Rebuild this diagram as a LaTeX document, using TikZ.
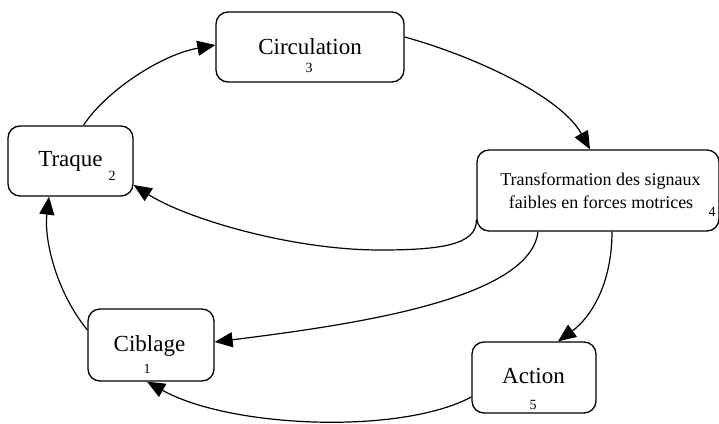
\documentclass[tikz,border=0pt]{standalone}
\usepackage{fontspec}
\setmainfont{Liberation Serif}
\usetikzlibrary{arrows.meta}
\begin{document}
\begin{tikzpicture}[x=1pt,y=-1pt,
  box/.style={draw, line width=1.3pt, rounded corners=12pt, inner sep=0pt},
  lbl/.style={anchor=base, inner sep=0pt, font=\fontsize{23}{27}\selectfont},
  lbls/.style={anchor=base, inner sep=0pt, font=\fontsize{18}{22}\selectfont},
  num/.style={anchor=base, inner sep=0pt, font=\fontsize{14}{16}\selectfont},
  arr/.style={line width=1.2pt, -{Triangle[length=18pt,width=15pt]}}]
\useasboundingbox (0,0) rectangle (719,423);
% boxes
\node[box, minimum width=188pt, minimum height=70pt] (circ) at (310,47) {};
\node[box, minimum width=125pt, minimum height=70pt] (traq) at (70.5,161) {};
\node[box, minimum width=242pt, minimum height=81pt] (trans) at (598,190.5) {};
\node[box, minimum width=126pt, minimum height=72pt] (cib) at (151,345) {};
\node[box, minimum width=124pt, minimum height=71pt] (act) at (534,377.5) {};
% labels
\node[lbl] (tcirc) at (310,54) {Circulation};
\node[num] (n3) at (309,72) {3};
\node[lbl] (ttraq) at (70.5,166.7) {Traque};
\node[num] (n2) at (112,180.5) {2};
\node[lbls] (ttr1) at (600.5,185.7) {Transformation des signaux};
\node[lbls] (ttr2) at (601,208) {faibles en forces motrices};
\node[num] (n4) at (712,216) {4};
\node[lbl] (tcib) at (149.5,351.7) {Ciblage};
\node[num] (n1) at (147,373) {1};
\node[lbl] (tact) at (533.5,383) {Action};
\node[num] (n5) at (533,409) {5};
% connectors
\draw[arr] ([xshift=13pt]traq.north) .. controls (105,92) and (160,55) .. ([yshift=2pt]circ.west);
\draw[arr] ([yshift=10pt]circ.east) .. controls (470,55) and (560,95) .. ([xshift=-8pt]trans.north);
\draw[arr] ([yshift=-29.5pt]trans.west) .. controls (477,245) and (440,250) .. (380,250)
   .. controls (290,250) and (185,218) .. ([yshift=-24pt]traq.east);
\draw[arr] ([xshift=-60pt]trans.south) .. controls (530,300) and (350,325) .. ([yshift=3pt]cib.east);
\draw[arr] ([xshift=14pt]trans.south) .. controls (612,285) and (590,318) .. ([xshift=24pt]act.north);
\draw[arr] ([yshift=-19.5pt]act.west) .. controls (400,435) and (230,428) .. ([xshift=-4pt]cib.south);
\draw[arr] ([yshift=15pt]cib.west) .. controls (55,290) and (44,238) .. ([xshift=-21.5pt]traq.south);
\end{tikzpicture}
\end{document}
